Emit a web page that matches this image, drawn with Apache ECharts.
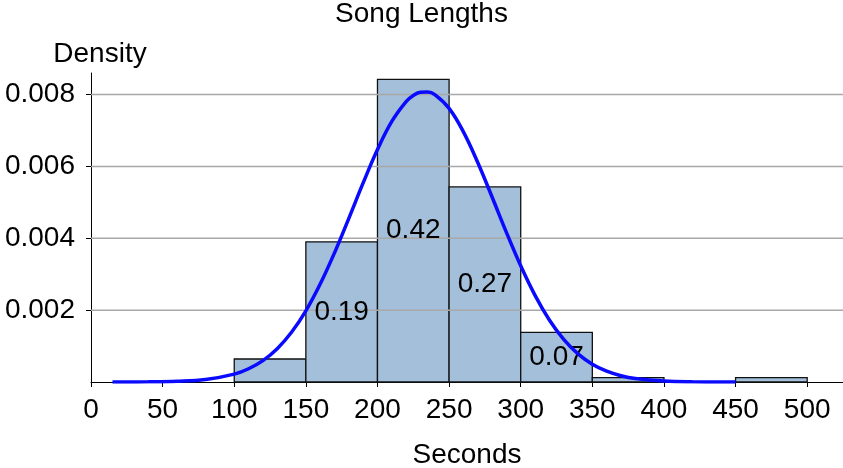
<!DOCTYPE html>
<html>
<head>
<meta charset="utf-8">
<script src="https://cdn.jsdelivr.net/npm/echarts@6/dist/echarts.min.js"></script>
<style>
  html, body { margin: 0; padding: 0; background: #fff; }
  #main { width: 843px; height: 468px; }
</style>
</head>
<body>
<div id="main"></div>
<script>
// histogram bins (seconds) and density per bin
var binStart = [100, 150, 200, 250, 300, 350, 400, 450];
var binEnd   = [150, 200, 250, 300, 350, 400, 450, 500];
var density  = [0.00064, 0.0039, 0.00842, 0.00543, 0.00138, 0.00012, 0, 0.00012];
var binLabel = ['', '0.19', '0.42', '0.27', '0.07', '', '', ''];

// fitted curve
var curveX = [15, 40, 60, 80, 100, 110, 120, 130, 140, 150, 160, 170, 180, 190, 200, 210, 220, 225, 230,
  235, 240, 250, 260, 270, 280, 290, 300, 310, 320, 330, 340, 350, 360, 370, 380, 400, 420, 450];
var curveY = [0.0000005, 0.000004, 0.000018, 0.000068, 0.000218, 0.000369, 0.000596, 0.000927, 0.001383,
  0.00198, 0.002725, 0.003595, 0.004556, 0.00554, 0.00647, 0.007253, 0.007806, 0.007975, 0.008065,
  0.00807, 0.008, 0.007617, 0.006963, 0.00611, 0.005149, 0.004164, 0.003233, 0.00241, 0.001724, 0.001185,
  0.000781, 0.000495, 0.0003, 0.000175, 0.0000982, 0.0000273, 0.0000064, 0.0000005];

var xTicks = [0, 50, 100, 150, 200, 250, 300, 350, 400, 450, 500];
var yTicks = [0.002, 0.004, 0.006, 0.008];

var font = 'Liberation Sans, Arial, Helvetica, sans-serif';

var histData = [];
for (var i = 0; i < binStart.length; i++) {
  histData.push([binStart[i], binEnd[i], density[i], binLabel[i]]);
}
var curveData = [];
for (var j = 0; j < curveX.length; j++) {
  curveData.push([curveX[j], curveY[j]]);
}

function renderBin(params, api) {
  var h = api.value(2);
  if (!h) return null;
  var p0 = api.coord([api.value(0), h]);
  var p1 = api.coord([api.value(1), 0]);
  return {
    type: 'rect',
    shape: { x: p0[0], y: p0[1], width: p1[0] - p0[0], height: p1[1] - p0[1] },
    style: { fill: '#a3bfd9', stroke: '#111', lineWidth: 1.3 }
  };
}

// bar labels sit above the gridlines
function renderBinLabel(params, api) {
  var txt = histData[params.dataIndex][3];
  if (!txt) return null;
  var p0 = api.coord([api.value(0), api.value(2)]);
  var p1 = api.coord([api.value(1), 0]);
  return {
    type: 'text',
    style: {
      text: txt,
      x: (p0[0] + p1[0]) / 2,
      y: (p0[1] + p1[1]) / 2,
      align: 'center',
      verticalAlign: 'middle',
      fill: '#000',
      font: '28px ' + font
    }
  };
}

// horizontal gridlines, drawn on top of the bars
function renderGrid(params, api) {
  var cs = params.coordSys;
  var p = api.coord([0, api.value(0)]);
  return {
    type: 'line',
    shape: { x1: cs.x, y1: p[1], x2: cs.x + cs.width, y2: p[1] },
    style: { stroke: '#a8a8a8', lineWidth: 1.5 }
  };
}

var option = {
  animation: false,
  backgroundColor: '#fff',
  textStyle: { fontFamily: font },
  title: {
    text: 'Song Lengths',
    left: 'center',
    top: -5,
    textStyle: { fontSize: 28, fontWeight: 'normal', color: '#000', fontFamily: font }
  },
  grid: { left: 91, right: 0, top: 73, bottom: 86, outerBoundsMode: 'none', containLabel: false },
  xAxis: {
    type: 'value',
    min: 0,
    max: 525,
    interval: 25,
    name: 'Seconds',
    nameLocation: 'middle',
    nameGap: 59,
    nameTextStyle: { fontSize: 28, color: '#000', fontFamily: font },
    axisLine: { show: true, lineStyle: { color: '#000', width: 1 } },
    axisTick: { show: true, length: 5, customValues: xTicks, lineStyle: { color: '#000' } },
    axisLabel: { fontSize: 28, color: '#000', margin: 14, customValues: xTicks, fontFamily: font },
    splitLine: { show: false }
  },
  yAxis: {
    type: 'value',
    min: 0,
    max: 0.0086,
    interval: 0.002,
    name: 'Density',
    nameLocation: 'end',
    nameGap: 5,
    nameTextStyle: { fontSize: 28, color: '#000', fontFamily: font, padding: [0, 0, 0, 18] },
    axisLine: { show: true, lineStyle: { color: '#000', width: 1 } },
    axisTick: { show: true, length: 5, customValues: yTicks, lineStyle: { color: '#000' } },
    axisLabel: { fontSize: 28, color: '#000', margin: 16, customValues: yTicks, fontFamily: font },
    splitLine: { show: false }
  },
  series: [
    {
      type: 'custom',
      renderItem: renderBin,
      data: histData,
      encode: { x: [0, 1], y: 2 },
      z: 2
    },
    {
      type: 'custom',
      renderItem: renderGrid,
      data: yTicks.map(function (v) { return [v]; }),
      encode: { y: 0 },
      silent: true,
      z: 3
    },
    {
      type: 'custom',
      renderItem: renderBinLabel,
      data: histData,
      encode: { x: [0, 1], y: 2 },
      silent: true,
      z: 4
    },
    {
      type: 'line',
      data: curveData,
      smooth: 0.4,
      showSymbol: false,
      z: 5,
      lineStyle: { color: '#0a0aff', width: 3.5 }
    }
  ]
};

var myChart = echarts.init(document.getElementById('main'));
myChart.setOption(option);
</script>
</body>
</html>
